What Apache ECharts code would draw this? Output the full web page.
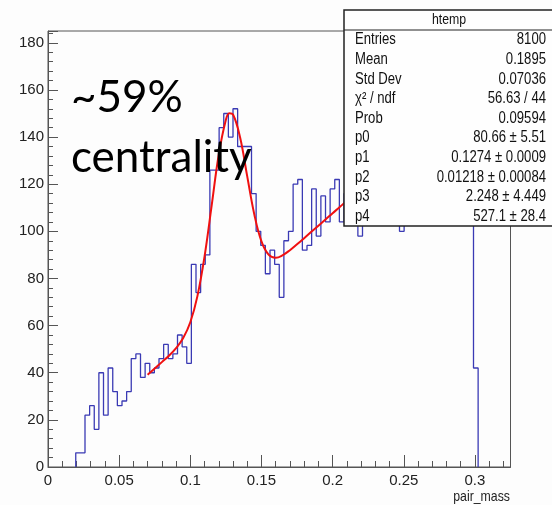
<!DOCTYPE html>
<html><head><meta charset="utf-8">
<script src="https://cdn.jsdelivr.net/npm/echarts@6/dist/echarts.min.js"></script>
<style>html,body{margin:0;padding:0;background:#fdfdfd}#c{width:552px;height:505px}</style>
</head><body><div id="c"></div>
<script>
// ---- data ----
const binWidth = 0.00325;
const firstBinLow = 0.0195;
const counts = [6,6,22,26,16, 40,22,42,32,26, 28,32,46,48,38, 44,40,42,46,52,
  46,48,56,51,44, 86,74,86,90,126, 126,144,150,140,152, 136,136,136,116,100,
  94,82,92,86,72, 96,100,120,122,92, 94,118,98,115,104, 118,122,104,
  116,112,120,98,114, 110,122,116,124,126, 118,124,100,126,130, 122,128,128,134,126,
  132,140,128,144,136, 150,142,170, 42];
const fitX = [0.070,0.075,0.080,0.085,0.090,0.095,0.100,0.105,0.110,0.115,0.120,0.125,0.1274,0.130,0.135,0.140,0.145,0.150,0.155,0.160,0.165,0.170,0.175,0.180,0.185,0.190,0.195,0.200,0.205,0.210,0.215,0.220];
const fitY = [39.1,41.8,44.5,47.2,50.4,54.7,61.4,72.5,89.3,110.9,132.6,147.3,150.1,149.6,139.8,123.3,107.1,95.7,90.1,88.8,89.9,92.0,94.5,97.1,99.8,102.4,105.0,107.7,110.3,113.0,115.6,118.2];
const xTickLabels = ['0','0.05','0.1','0.15','0.2','0.25','0.3'];
const yTickLabels = ['0','20','40','60','80','100','120','140','160','180'];
const statTitle = 'htemp';
const statLabels = ['Entries','Mean','Std Dev','\u03c7\u00b2 / ndf','Prob','p0','p1','p2','p3','p4'];
const statValues = ['8100','0.1895','0.07036','56.63 / 44','0.09594','80.66 \u00b1 5.51','0.1274 \u00b1 0.0009','0.01218 \u00b1 0.00084','2.248 \u00b1 4.449','527.1 \u00b1 28.4'];
const noteLines = ['~59%','centrality'];
const xTitle = 'pair_mass';

// ---- build ----
const histPts = [[firstBinLow, 0]];
counts.forEach((c, i) => histPts.push([+(firstBinLow + i * binWidth).toFixed(5), c]));
histPts.push([+(firstBinLow + counts.length * binWidth).toFixed(5), 0]);
const fitPts = fitX.map((x, i) => [x, fitY[i]]);

const NF = "'Liberation Sans',Arial,sans-serif";
const SX = 0.82; // narrow Helvetica look
const axCol = '#555';
function fmtX(v){ const k = Math.round(v/0.05); return Math.abs(v - k*0.05) < 1e-6 && k < xTickLabels.length ? xTickLabels[k] : ''; }
function fmtY(v){ const k = Math.round(v/20); return Math.abs(v - k*20) < 1e-6 && k < yTickLabels.length ? yTickLabels[k] : ''; }

const graphics = [];
const bx = 344, by = 10, bh = 216;
graphics.push({type:'rect', z:100, shape:{x:bx, y:by, width:240, height:bh}, style:{fill:'#fefefe', stroke:'#222', lineWidth:1.5}});
graphics.push({type:'line', z:101, shape:{x1:bx, y1:30, x2:560, y2:30}, style:{stroke:'#222', lineWidth:1.2}});
graphics.push({type:'text', z:102, x:449, y:20, scaleX:SX, style:{text:statTitle, font:'15px '+NF, fill:'#111', align:'center', verticalAlign:'middle'}});
statLabels.forEach((t, i) => {
  const yy = 40 + i * 19.6;
  graphics.push({type:'text', z:102, x:355, y:yy, scaleX:SX, style:{text:t, font:'16px '+NF, fill:'#111', align:'left', verticalAlign:'middle'}});
  graphics.push({type:'text', z:102, x:546, y:yy, scaleX:SX, style:{text:statValues[i], font:'16px '+NF, fill:'#111', align:'right', verticalAlign:'middle'}});
});
graphics.push({type:'text', z:102, x:71, y:98, style:{text:noteLines[0], font:'44px Lato, sans-serif', fill:'#000', align:'left', verticalAlign:'middle'}});
graphics.push({type:'text', z:102, x:71, y:158, style:{text:noteLines[1], font:'44px Lato, sans-serif', fill:'#000', align:'left', verticalAlign:'middle'}});
graphics.push({type:'text', z:102, x:510, y:497, scaleX:SX, style:{text:xTitle, font:'15px '+NF, fill:'#222', align:'right', verticalAlign:'middle'}});

const chart = echarts.init(document.getElementById('c'), null, {renderer:'canvas'});
chart.setOption({
  animation:false,
  backgroundColor:'#fdfdfd',
  grid:{left:48, right:41.5, top:31, bottom:38, show:true, borderColor:axCol, borderWidth:1, backgroundColor:'transparent'},
  xAxis:[
    {type:'value', min:0, max:0.325, interval:0.05, position:'bottom',
     axisLine:{show:true, lineStyle:{color:axCol, width:1}},
     axisTick:{show:true, inside:true, length:12, lineStyle:{color:axCol}},
     axisLabel:{formatter:fmtX, fontFamily:NF, fontSize:15, color:'#222', margin:6, showMaxLabel:false},
     splitLine:{show:false}},
    {type:'value', min:0, max:0.325, interval:0.01, position:'bottom',
     axisLine:{show:false}, axisTick:{show:true, inside:true, length:6, lineStyle:{color:axCol}},
     axisLabel:{show:false}, splitLine:{show:false}}
  ],
  yAxis:[
    {type:'value', min:0, max:185, interval:20, position:'left',
     axisLine:{show:true, lineStyle:{color:axCol, width:1}},
     axisTick:{show:true, inside:true, length:10, lineStyle:{color:axCol}},
     axisLabel:{formatter:fmtY, fontFamily:NF, fontSize:15, color:'#222', margin:4},
     splitLine:{show:false}},
    {type:'value', min:0, max:185, interval:4, position:'left',
     axisLine:{show:false}, axisTick:{show:true, inside:true, length:5, lineStyle:{color:axCol}},
     axisLabel:{show:false}, splitLine:{show:false}}
  ],
  series:[
    {type:'line', xAxisIndex:0, yAxisIndex:0, data:histPts, step:'end', symbol:'none',
     lineStyle:{color:'#3a3ab4', width:1.3}, z:3, silent:true},
    {type:'line', xAxisIndex:0, yAxisIndex:0, data:fitPts, smooth:0.4, symbol:'none',
     lineStyle:{color:'#f01010', width:2}, z:4, silent:true}
  ],
  graphic:{elements:graphics}
});
</script></body></html>
